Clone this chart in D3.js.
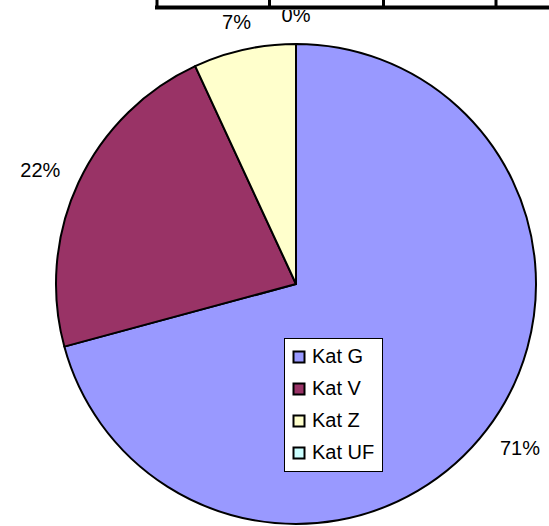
<!DOCTYPE html>
<html>
<head>
    <meta charset="utf-8">
    <title>Kat pie</title>
    <script type="text/javascript" src="https://d3js.org/d3.v7.min.js"></script>
    <style>
        body { margin: 0; background: white; }
        .canvas {
            font-family: "Liberation Sans", Arial, sans-serif;
            background-color: white;
            width: 549px;
            height: 526px;
            display: block;
        }
    </style>
</head>
<body>
    <svg class="canvas"></svg>
    <script type="text/javascript">
        // data
        var categories = ["Kat G", "Kat V", "Kat Z", "Kat UF"]
        var values = [70.8, 22.3, 6.9, 0]
        var colors = ["#9999FF", "#993366", "#FFFFCC", "#CCFFFF"]

        // the table border that peeks in at the top
        var tableCols = [157, 269.5, 383.5, 496]

        var cx = 296, cy = 284, r = 240

        var svg = d3.select('.canvas')

        var pie = d3.pie().sort(null).value(d => d)
        var arcs = pie(values)
        var arc = d3.arc().innerRadius(0).outerRadius(r)

        var g = svg.append('g').attr('transform', `translate(${cx},${cy})`)

        g.selectAll('path')
            .data(arcs)
            .enter()
            .append('path')
            .attr('d', arc)
            .style('fill', (d, i) => colors[i])
            .style('stroke', 'black')
            .style('stroke-width', 2)
            .style('stroke-linejoin', 'round')

        // labels sit just outside, pushed out by half their box (like excel does)
        var total = d3.sum(values)
        var lr = 262
        g.selectAll('.lbl')
            .data(arcs)
            .enter()
            .append('text')
            .attr('class', 'lbl')
            .attr('text-anchor', 'middle')
            .attr('dy', '0.36em')
            .style('font-size', '20px')
            .text(d => Math.round(d.value / total * 100) + '%')
            .each(function(d) {
                var a = (d.startAngle + d.endAngle) / 2
                var sx = Math.sin(a), sy = -Math.cos(a)
                var w = this.getBBox().width, h = 14
                d3.select(this)
                    .attr('x', sx * lr + sx * w / 2)
                    .attr('y', sy * lr + sy * h / 2)
            })

        // white strip + table lines on top
        svg.append('rect').attr('x', 0).attr('y', 0).attr('width', 549).attr('height', 10).style('fill', 'white')
        svg.append('rect').attr('x', 155).attr('y', 5.5).attr('width', 394).attr('height', 4).style('fill', 'black')
        svg.selectAll('.col')
            .data(tableCols)
            .enter()
            .append('rect')
            .attr('class', 'col')
            .attr('x', d => d - 1.5)
            .attr('y', 0)
            .attr('width', 3)
            .attr('height', 9)
            .style('fill', 'black')

        // legend
        var leg = svg.append('g').attr('transform', 'translate(284,338)')
        leg.append('rect')
            .attr('x', 0.5).attr('y', 0.5)
            .attr('width', 98).attr('height', 133)
            .style('fill', 'white')
            .style('stroke', 'black')
            .style('stroke-width', 1)

        var item = leg.selectAll('.item')
            .data(categories)
            .enter()
            .append('g')
            .attr('class', 'item')
            .attr('transform', (d, i) => `translate(0,${25 + i * 32})`)

        item.append('rect')
            .attr('x', 9.5).attr('y', -11.5)
            .attr('width', 11).attr('height', 11)
            .style('fill', (d, i) => colors[i])
            .style('stroke', 'black')
            .style('stroke-width', 2)

        item.append('text')
            .attr('x', 28)
            .attr('y', 0)
            .style('font-size', '20px')
            .text(d => d)
    </script>
</body>
</html>
